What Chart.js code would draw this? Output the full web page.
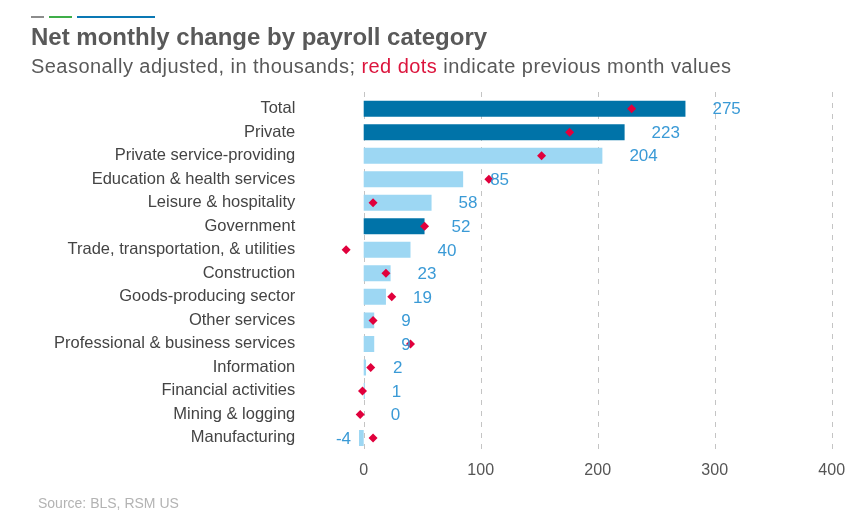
<!DOCTYPE html>
<html>
<head>
<meta charset="utf-8">
<script src="https://cdn.jsdelivr.net/npm/chart.js@4/dist/chart.umd.min.js"></script>
<style>
  html, body { margin: 0; padding: 0; background: #ffffff; }
  #wrap { position: relative; width: 860px; height: 528px; overflow: hidden; font-family: "Liberation Sans", Arial, sans-serif; }
  #c { position: absolute; left: 0; top: 0; }
  .deco { position: absolute; top: 16px; height: 2px; }
  #title { position: absolute; left: 31px; top: 25px; font-size: 24px; line-height: 24px; font-weight: bold; color: #595959; white-space: nowrap; }
  #subtitle { position: absolute; left: 31px; top: 56px; font-size: 20px; line-height: 20px; letter-spacing: 0.45px; color: #595959; white-space: nowrap; }
  #subtitle span { color: #DC143C; }
  #source { position: absolute; left: 38px; top: 496px; font-size: 14px; line-height: 14px; color: #b3b3b3; white-space: nowrap; }
</style>
</head>
<body>
<div id="wrap">
  <canvas id="c" width="860" height="528"></canvas>
  <div class="deco" style="left:31px;width:13px;background:#8c8c8c;"></div>
  <div class="deco" style="left:49px;width:23px;background:#3fae49;"></div>
  <div class="deco" style="left:77px;width:78px;background:#0a78b4;"></div>
  <div id="title">Net monthly change by payroll category</div>
  <div id="subtitle">Seasonally adjusted, in thousands; <span>red dots</span> indicate previous month values</div>
  <div id="source">Source: BLS, RSM US</div>
</div>
<script>
// ---- data ----
const categories = [
  'Total',
  'Private',
  'Private service-providing',
  'Education & health services',
  'Leisure & hospitality',
  'Government',
  'Trade, transportation, & utilities',
  'Construction',
  'Goods-producing sector',
  'Other services',
  'Professional & business services',
  'Information',
  'Financial activities',
  'Mining & logging',
  'Manufacturing'
];
const currentMonth = [275, 223, 204, 85, 58, 52, 40, 23, 19, 9, 9, 2, 1, 0, -4];
const previousMonth = [229, 176, 152, 107, 8, 52, -15, 19, 24, 8, 40, 6, -1, -3, 8];
const aggregateCategories = ['Total', 'Private', 'Government'];
const xTickValues = [0, 100, 200, 300, 400];

// ---- styles ----
const DARK = '#0073a8';
const LIGHT = '#9dd7f3';
const LABEL_BLUE = '#3a9ad6';
const RED = '#e0003c';
const FONT = '"Liberation Sans", Arial, sans-serif';

const barColors = categories.map(c => aggregateCategories.includes(c) ? DARK : LIGHT);

const gridPlugin = {
  id: 'dashedGrid',
  beforeDatasetsDraw(chart) {
    const { ctx, chartArea, scales } = chart;
    ctx.save();
    ctx.strokeStyle = '#c4c4c4';
    ctx.lineWidth = 1;
    ctx.setLineDash([5, 6]);
    xTickValues.forEach(v => {
      const x = Math.round(scales.x.getPixelForValue(v)) + 0.5;
      ctx.beginPath();
      ctx.moveTo(x, chartArea.top - 5);
      ctx.lineTo(x, chartArea.bottom + 5);
      ctx.stroke();
    });
    ctx.restore();
  }
};

const valueLabelPlugin = {
  id: 'valueLabels',
  afterDatasetsDraw(chart) {
    const { ctx } = chart;
    const meta = chart.getDatasetMeta(1);
    ctx.save();
    ctx.font = '17px ' + FONT;
    ctx.fillStyle = LABEL_BLUE;
    ctx.textBaseline = 'middle';
    meta.data.forEach((bar, i) => {
      const v = currentMonth[i];
      if (v >= 0) {
        ctx.textAlign = 'left';
        ctx.fillText(String(v), bar.x + 27, bar.y + 1);
      } else {
        ctx.textAlign = 'right';
        ctx.fillText(String(v), bar.x - 8, bar.y + 1);
      }
    });
    ctx.restore();
  }
};

new Chart(document.getElementById('c'), {
  type: 'bar',
  data: {
    labels: categories,
    datasets: [
      {
        type: 'line',
        label: 'Previous month',
        data: previousMonth,
        indexAxis: 'y',
        showLine: false,
        pointStyle: 'rectRot',
        pointRadius: 4.5,
        pointBackgroundColor: RED,
        pointBorderColor: RED,
        pointBorderWidth: 0,
        order: 0
      },
      {
        type: 'bar',
        label: 'Current month',
        data: currentMonth,
        indexAxis: 'y',
        backgroundColor: barColors,
        borderWidth: 0,
        categoryPercentage: 1,
        barPercentage: 0.68,
        order: 1
      }
    ]
  },
  options: {
    indexAxis: 'y',
    responsive: false,
    animation: false,
    layout: { padding: { top: 97, right: 28.3, bottom: 0, left: 0 } },
    plugins: { legend: { display: false }, tooltip: { enabled: false } },
    scales: {
      x: {
        type: 'linear',
        min: -20,
        max: 400,
        grid: { display: false },
        border: { display: false },
        afterBuildTicks(scale) { scale.ticks = xTickValues.map(v => ({ value: v })); },
        afterFit(scale) { scale.height = 528 - 449.7; },
        ticks: { color: '#555555', font: { family: FONT, size: 16 }, padding: 3, maxRotation: 0 }
      },
      y: {
        type: 'category',
        grid: { display: false },
        border: { display: false },
        afterFit(scale) { scale.width = 340.3; },
        ticks: { color: '#444444', font: { family: FONT, size: 16.5 }, padding: 37, autoSkip: false }
      }
    }
  },
  plugins: [gridPlugin, valueLabelPlugin]
});
</script>
</body>
</html>
